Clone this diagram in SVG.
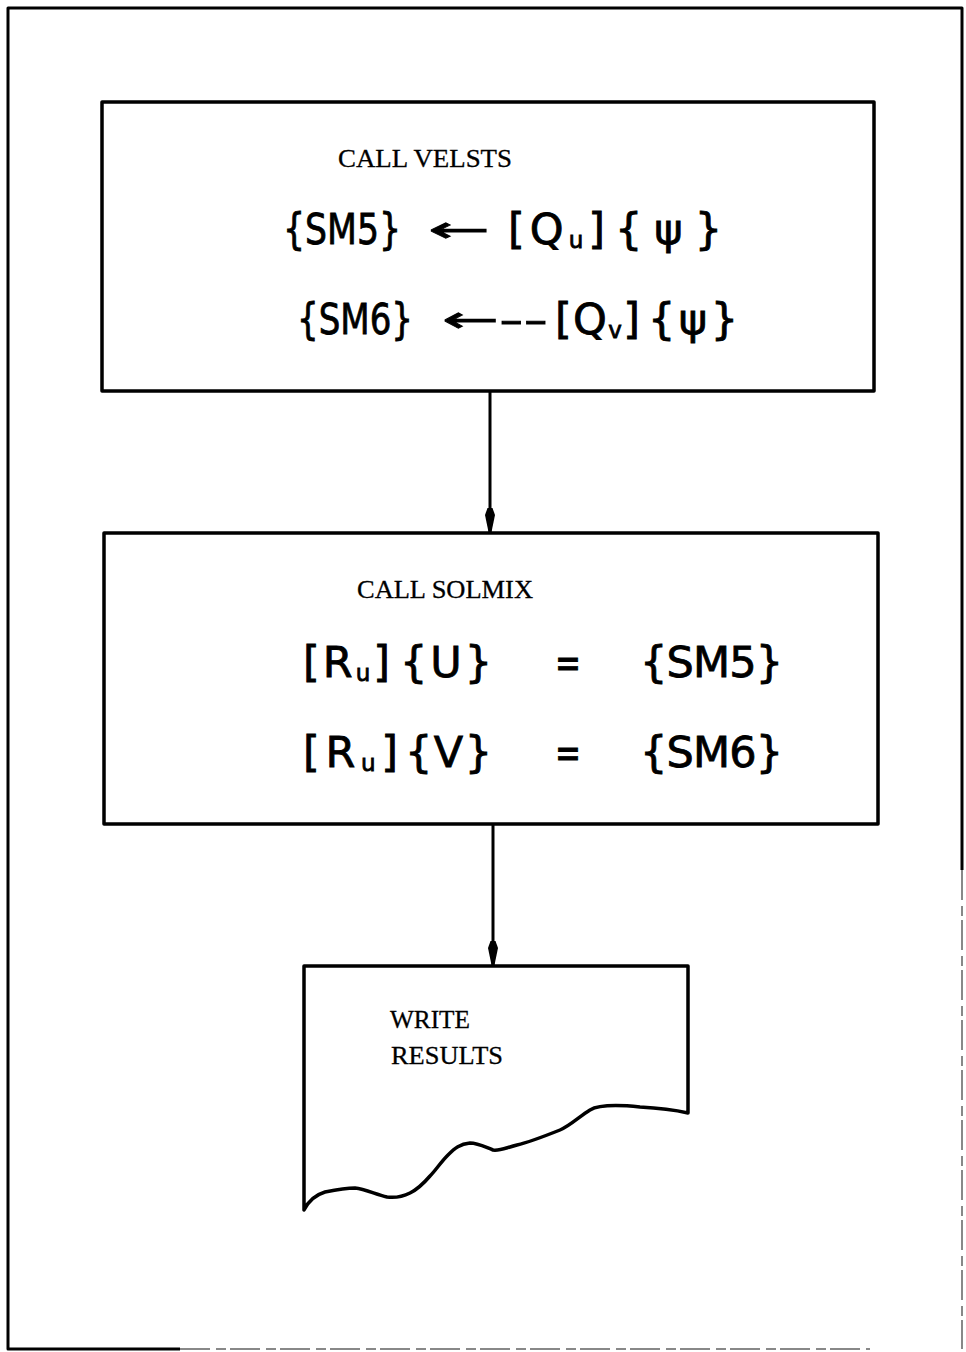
<svg xmlns="http://www.w3.org/2000/svg" width="966" height="1352" viewBox="0 0 966 1352">
<style>
.frame{fill:none;stroke:#000;stroke-width:3;stroke-linejoin:round}
.frame-faded{fill:none;stroke:#888;stroke-width:2;stroke-dasharray:30 6 10 4}
.box{fill:#fff;stroke:#000;stroke-width:3.5;stroke-linejoin:round;stroke-linecap:round}
.conn{fill:none;stroke:#000;stroke-width:3}
.type{font-family:"Liberation Serif","Times New Roman",serif;font-size:25px;fill:#000;stroke:#000;stroke-width:0.3}
.hand{font-family:"DejaVu Sans","Liberation Sans",sans-serif;font-size:43px;fill:#000;stroke:#000;stroke-width:0.8}
.arrow{font-family:"DejaVu Sans","Liberation Sans",sans-serif;font-size:36px;fill:#000;stroke:#000;stroke-width:0.8}
.sub{font-size:23px}
</style>
<defs>
<marker id="dart" markerWidth="24" markerHeight="12" refX="24" refY="6" orient="auto" markerUnits="userSpaceOnUse" viewBox="0 0 24 12">
<path d="M0,3.5 L0,8.5 L7,11 L24,7.5 L24,4.5 L7,1 Z" fill="#000"/>
</marker>
</defs>
<rect width="966" height="1352" fill="#fff"/>
<g id="frame">
<path class="frame" d="M8,870 L8,8 L962,8 L962,870"/>
<path class="frame" d="M8,870 L8,1349 L180,1349"/>
<path class="frame-faded" d="M180,1349 L870,1349 M962,870 L962,1349"/>
</g>
<g id="connectors">
<line class="conn" x1="490" y1="391" x2="490" y2="532" marker-end="url(#dart)"/>
<line class="conn" x1="493" y1="824" x2="493" y2="965" marker-end="url(#dart)"/>
</g>
<g id="node-velsts">
<rect class="box" x="102" y="102" width="772" height="289"/>
<text class="type" x="338" y="167" textLength="174" lengthAdjust="spacingAndGlyphs">CALL VELSTS</text>
<text class="hand" x="283" y="244" textLength="118" lengthAdjust="spacingAndGlyphs">{SM5}</text>
<text class="arrow" x="428" y="242" textLength="62" lengthAdjust="spacingAndGlyphs">←</text>
<text class="hand" x="508" y="244" textLength="97" lengthAdjust="spacing">[Q<tspan class="sub" dy="4">u</tspan><tspan dy="-4">]</tspan></text>
<text class="hand" x="615" y="244" textLength="107" lengthAdjust="spacing">{ψ}</text>
<text class="hand" x="297" y="334" textLength="116" lengthAdjust="spacingAndGlyphs">{SM6}</text>
<text class="arrow" x="442" y="332" textLength="106" lengthAdjust="spacingAndGlyphs">←--</text>
<text class="hand" x="555" y="334" textLength="85" lengthAdjust="spacing">[Q<tspan class="sub" dy="4">v</tspan><tspan dy="-4">]</tspan></text>
<text class="hand" x="648" y="334" textLength="90" lengthAdjust="spacing">{ψ}</text>
</g>
<g id="node-solmix">
<rect class="box" x="104" y="533" width="774" height="291"/>
<text class="type" x="357" y="598" textLength="176" lengthAdjust="spacingAndGlyphs">CALL SOLMIX</text>
<text class="hand" x="303" y="677" textLength="87" lengthAdjust="spacing">[R<tspan class="sub" dy="4">u</tspan><tspan dy="-4">]</tspan></text>
<text class="hand" x="400" y="677" textLength="92" lengthAdjust="spacing">{U}</text>
<text class="hand" x="555" y="677" textLength="26" lengthAdjust="spacingAndGlyphs">=</text>
<text class="hand" x="640" y="677" textLength="143" lengthAdjust="spacing">{SM5}</text>
<text class="hand" x="303" y="767" textLength="95" lengthAdjust="spacing">[R<tspan class="sub" dy="4">u</tspan><tspan dy="-4">]</tspan></text>
<text class="hand" x="405" y="767" textLength="87" lengthAdjust="spacing">{V}</text>
<text class="hand" x="555" y="767" textLength="26" lengthAdjust="spacingAndGlyphs">=</text>
<text class="hand" x="640" y="767" textLength="143" lengthAdjust="spacing">{SM6}</text>
</g>
<g id="node-write">
<path class="box" d="M304,1210 L304,966 L688,966 L688,1113 C675,1110 660,1108 640,1107 C620,1105 600,1104 590,1110 C580,1116 570,1126 560,1130 C545,1136 530,1142 517,1145 C505,1148 500,1151 493,1150 C485,1147 478,1143 470,1143 C460,1144 455,1148 448,1155 C440,1163 436,1170 430,1176 C424,1183 418,1189 410,1193 C402,1197 395,1198 387,1197 C375,1194 365,1189 355,1188 C345,1188 335,1190 325,1192 C315,1195 308,1202 304,1210 Z"/>
<text class="type" x="390" y="1028" textLength="80" lengthAdjust="spacingAndGlyphs">WRITE</text>
<text class="type" x="391" y="1064" textLength="112" lengthAdjust="spacingAndGlyphs">RESULTS</text>
</g>
</svg>
